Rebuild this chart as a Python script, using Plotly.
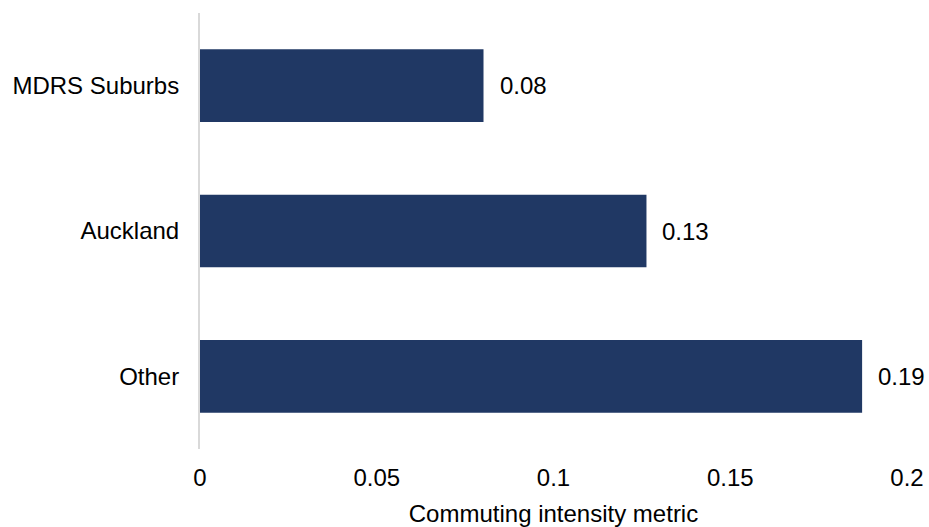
import plotly.graph_objects as go

categories = ["MDRS Suburbs", "Auckland", "Other"]
values = [0.0802, 0.1263, 0.1873]
labels = ["0.08", "0.13", "0.19"]
tick_vals = [0, 0.05, 0.1, 0.15, 0.2]
tick_text = ["0", "0.05", "0.1", "0.15", "0.2"]

FONT = "Liberation Sans, Arial, sans-serif"
FS = 24
BAR = "#203864"

fig = go.Figure()
fig.add_trace(go.Bar(
    x=values, y=categories, orientation="h",
    marker=dict(color=BAR, line=dict(width=0)),
    width=0.5, hoverinfo="skip",
))
for v, c, t in zip(values, categories, labels):
    fig.add_annotation(x=v, y=c, text=t, showarrow=False, xanchor="left",
                       xshift=14, font=dict(family=FONT, size=FS, color="#000000"))

fig.update_layout(
    width=929, height=527,
    margin=dict(l=200, r=22, t=13, b=78),
    paper_bgcolor="white", plot_bgcolor="white",
    font=dict(family=FONT, size=FS, color="#000000"),
    showlegend=False,
    xaxis=dict(
        range=[0, 0.2], tickvals=tick_vals, ticktext=tick_text,
        showgrid=False, zeroline=False, showline=False, automargin=False,
        ticks="outside", ticklen=7, tickcolor="rgba(0,0,0,0)",
        title=dict(text="Commuting intensity metric", standoff=15,
                   font=dict(family=FONT, size=FS)),
        tickfont=dict(family=FONT, size=FS),
    ),
    yaxis=dict(
        categoryorder="array", categoryarray=categories[::-1],
        showgrid=False, zeroline=False, showline=True, automargin=False,
        linecolor="#d9d9d9", linewidth=2,
        ticks="outside", ticklen=14, tickcolor="rgba(0,0,0,0)",
        tickfont=dict(family=FONT, size=FS),
    ),
)

fig.write_html("out.html", config={"displayModeBar": False},
               post_script="document.body.style.margin='0';document.body.style.overflow='hidden';")
